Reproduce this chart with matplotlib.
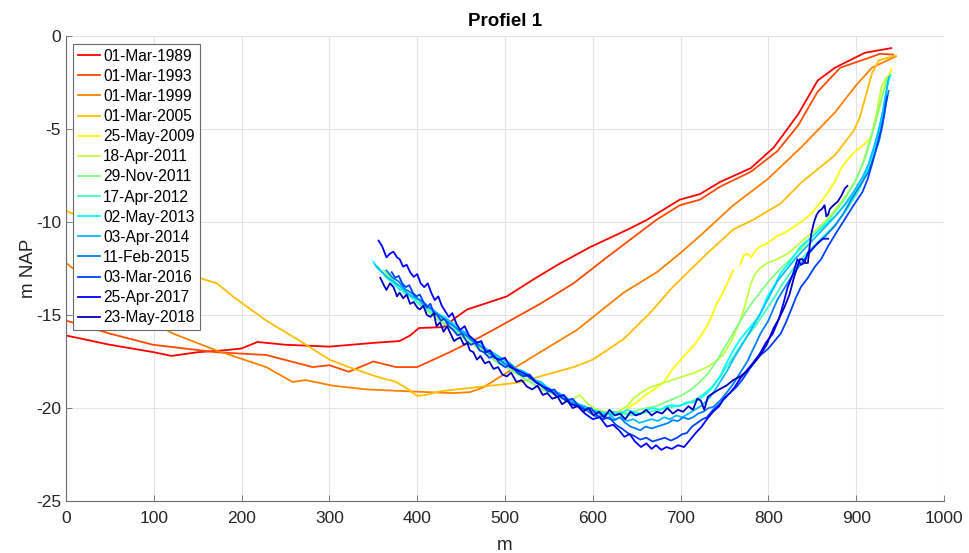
import numpy as np
import matplotlib
matplotlib.use("Agg")
import matplotlib.pyplot as plt

plt.rcParams['font.family'] = ['Liberation Sans', 'DejaVu Sans']
plt.rcParams['axes.unicode_minus'] = False

nan = np.nan

# ---------- survey dates and colours
dates = ["01-Mar-1989", "01-Mar-1993", "01-Mar-1999", "01-Mar-2005",
         "25-May-2009", "18-Apr-2011", "29-Nov-2011", "17-Apr-2012",
         "02-May-2013", "03-Apr-2014", "11-Feb-2015", "03-Mar-2016",
         "25-Apr-2017", "23-May-2018"]

colors = ["#ff0000", "#ff4a00", "#ff8000", "#ffbf00", "#ffff00", "#bfff40",
          "#80ff80", "#40ffbf", "#00ffff", "#00bfff", "#0080ff", "#0040ff",
          "#0000ff", "#0000c0"]

# ---------- profiles (distance m, level m NAP)
x_1989 = [0, 50, 100, 120, 150, 180, 200, 218, 250, 300, 350, 380, 392, 402,
          430, 445, 457, 470, 502, 532, 560, 597, 640, 661, 699, 722, 745,
          780, 806, 834, 856, 876, 910, 940]
y_1989 = [-16.1, -16.6, -17.0, -17.2, -17.0, -16.9, -16.8, -16.45, -16.6,
          -16.7, -16.5, -16.4, -16.1, -15.7, -15.65, -15.1, -14.7, -14.5,
          -14.0, -13.1, -12.3, -11.35, -10.4, -9.9, -8.8, -8.5, -7.85, -7.1,
          -6.0, -4.2, -2.4, -1.7, -0.9, -0.65]

x_1993 = [0, 50, 99, 171, 228, 281, 300, 322, 350, 376, 400, 437, 471, 502,
          540, 578, 616, 672, 699, 722, 745, 780, 810, 834, 856, 882, 913,
          927, 942]
y_1993 = [-15.3, -16.0, -16.6, -17.0, -17.15, -17.8, -17.7, -18.05, -17.5,
          -17.8, -17.8, -17.0, -16.2, -15.4, -14.4, -13.3, -11.9, -9.9, -9.1,
          -8.8, -8.1, -7.3, -6.2, -4.8, -3.0, -1.7, -1.2, -0.96, -1.0]

x_1999 = [0, 50, 122, 171, 228, 258, 273, 304, 342, 388, 440, 460, 475, 502,
          540, 582, 635, 673, 699, 722, 760, 799, 837, 876, 899, 918, 945]
y_1999 = [-12.2, -14.1, -16.0, -16.9, -17.8, -18.6, -18.5, -18.8, -19.0,
          -19.1, -19.2, -19.15, -18.9, -18.1, -17.0, -15.8, -13.8, -12.7,
          -11.7, -10.75, -9.1, -7.7, -6.0, -4.1, -2.7, -1.7, -1.1]

x_2005 = [0, 20, 75, 141, 172, 190, 228, 265, 300, 322, 353, 376, 390, 400,
          410, 426, 464, 513, 540, 578, 600, 635, 665, 691, 730, 760, 782,
          814, 837, 876, 897, 904, 918, 926, 945]
y_2005 = [-9.4, -9.8, -11.3, -12.85, -13.3, -14.0, -15.3, -16.35, -17.4,
          -17.8, -18.3, -18.6, -19.0, -19.35, -19.3, -19.1, -18.9, -18.65,
          -18.3, -17.8, -17.4, -16.3, -14.9, -13.5, -11.7, -10.4, -9.9, -9.0,
          -7.9, -6.4, -5.1, -4.4, -2.0, -1.3, -1.05]

x_2009 = [640, 650, 660, 670, 681, 691, 702, 714, 722, 730, 736, 741, 747,
          753, 757, 760, 764, 768, 772, 776, 780, 786, 791, 797, 803, 810,
          818, 828, 837, 848, 860, 868, 876, 883, 891, 899, 907, 914, 917,
          920, 924, 928, 933, 937, 940]
y_2009 = [-20.0, -19.7, -19.3, -19.0, -18.6, -17.9, -17.3, -16.7, -16.2,
          -15.6, -15.0, -14.4, -13.9, -13.3, -12.9, -12.6, nan, -12.3, -11.8,
          -11.7, -11.9, -11.5, -11.3, -11.2, -11.0, -10.75, -10.6, -10.3,
          -10.0, -9.6, -8.9, -8.4, -7.8, -7.1, -6.6, -6.2, -5.9, -5.6, nan,
          -4.9, -4.3, -3.5, -2.6, -2.1, -1.8]

x_2011a = [365, 375, 385, 395, 405, 415, 425, 435, 445, 455, 465, 475, 485,
           495, 505, 515, 525, 535, 545, 555, 565, 575, 585, 595, 605, 615,
           625, 632, 639, 646, 654, 665, 677, 690, 703, 716, 730, 740, 749,
           758, 768, 775, 780, 785, 790, 799, 810, 822, 832, 841, 855, 868,
           880, 891, 900, 907, 915, 922, 929, 935]
y_2011a = [-12.8, -13.3, -13.7, -14.1, -14.5, -14.9, -15.2, -15.6, -15.9,
           -16.2, -16.6, -16.9, -17.3, -17.6, -17.9, -18.2, -18.5, -18.8,
           -19.0, -19.2, -19.4, -19.6, -19.3, -19.8, -20.1, -20.2, -20.3,
           -20.1, -19.9, -19.5, -19.2, -18.9, -18.7, -18.5, -18.3, -18.1,
           -17.8, -17.5, -17.1, -16.4, -15.3, -14.2, -13.3, -12.8, -12.5,
           -12.2, -12.0, -11.7, -11.3, -10.9, -10.4, -9.8, -9.1, -8.4, -7.7,
           -6.9, -5.7, -4.4, -2.7, -2.2]

x_2011b = [362, 372, 382, 392, 402, 412, 422, 432, 442, 452, 462, 472, 482,
           492, 502, 512, 522, 532, 542, 552, 562, 572, 582, 592, 602, 612,
           622, 632, 642, 652, 662, 672, 682, 692, 702, 712, 722, 732, 742,
           752, 762, 772, 782, 792, 802, 812, 825, 840, 855, 870, 885, 898,
           910, 918, 925, 931, 935]
y_2011b = [-12.6, -13.1, -13.6, -14.0, -14.4, -14.8, -15.2, -15.5, -15.8,
           -16.2, -16.5, -16.9, -17.2, -17.6, -17.8, -18.1, -18.4, -18.7,
           -19.0, -19.2, -19.4, -19.7, -19.9, -20.1, -20.2, -20.4, -20.3,
           -20.2, -20.3, -20.1, -20.0, -19.9, -19.7, -19.5, -19.3, -19.0,
           -18.6, -18.1, -17.4, -16.6, -15.8, -15.0, -14.3, -13.7, -13.1,
           -12.6, -12.0, -11.3, -10.5, -9.8, -8.9, -7.9, -6.6, -5.3, -4.1,
           -3.0, -2.4]

x_2012 = [355, 365, 375, 385, 395, 405, 415, 425, 435, 445, 455, 465, 475,
          485, 495, 505, 515, 525, 535, 545, 555, 565, 575, 585, 595, 605,
          615, 625, 635, 645, 655, 665, 675, 685, 695, 705, 715, 725, 735,
          745, 755, 765, 775, 785, 795, 805, 815, 830, 845, 860, 875, 890,
          903, 913, 921, 928, 934]
y_2012 = [-12.4, -13.0, -13.4, -13.8, -14.1, -14.5, -14.8, -15.1, -15.4,
          -15.8, -16.1, -16.5, -16.8, -17.1, -17.4, -17.7, -18.0, -18.3,
          -18.5, -18.8, -19.1, -19.3, -19.6, -19.8, -20.0, -20.2, -20.3,
          -20.4, -20.3, -20.4, -20.3, -20.2, -20.1, -20.0, -19.9, -19.8,
          -19.6, -19.3, -18.9, -18.3, -17.6, -16.9, -16.2, -15.6, -14.9,
          -14.2, -13.4, -12.4, -11.6, -10.9, -10.2, -9.3, -8.3, -7.2, -5.9,
          -4.6, -3.4]

x_2013 = [350, 355, 360, 365, 370, 375, 380, 385, 390, 396, 402, 408, 414,
          420, 426, 432, 438, 444, 450, 456, 462, 468, 474, 480, 487, 494,
          501, 508, 515, 522, 529, 536, 543, 550, 557, 564, 571, 578, 585,
          592, 600, 608, 616, 623, 631, 639, 646, 654, 661, 669, 677, 684,
          691, 699, 706, 714, 722, 730, 738, 745, 752, 760, 768, 775, 782,
          790, 799, 807, 814, 825, 837, 852, 868, 878, 887, 897, 907, 913,
          918, 922, 926, 930, 933, 936, 939]
y_2013 = [-12.15, -12.5, -12.7, -12.95, -13.1, -13.3, -13.65, -13.6, -13.9,
          -14.1, -14.2, -14.5, -14.6, -14.8, -15.0, -15.1, -15.4, -15.5,
          -15.9, -16.0, -16.3, -16.6, -16.7, -17.0, -17.2, -17.4, -17.8,
          -17.7, -18.1, -18.2, -18.4, -18.6, -18.7, -19.0, -19.2, -19.3,
          -19.6, -19.75, -19.9, -20.0, -20.1, -20.2, -20.3, -20.2, -20.3,
          -20.1, -20.2, -20.3, -20.1, -20.0, -20.1, -19.9, -19.85, -19.9,
          -19.7, -19.7, -19.5, -19.2, -18.8, -18.3, -17.6, -16.9, -16.3,
          -15.9, -15.5, -15.0, -14.0, -13.4, -12.75, -12.1, -11.3, -10.7,
          -10.0, -9.6, -9.1, -8.5, -7.85, -7.1, -6.4, -5.8, -5.1, -4.2, -3.3,
          -2.6, -2.1]

x_2014 = [352, 358, 364, 370, 376, 382, 388, 394, 400, 406, 412, 418, 424,
          430, 436, 442, 448, 454, 460, 466, 472, 478, 485, 492, 499, 506,
          513, 520, 527, 534, 541, 548, 555, 562, 569, 576, 583, 590, 597,
          604, 611, 618, 625, 632, 639, 646, 653, 660, 667, 674, 681, 688,
          695, 702, 709, 716, 723, 730, 737, 745, 753, 761, 770, 780, 790,
          800, 810, 820, 830, 840, 852, 864, 876, 888, 898, 907, 914, 920,
          926, 931, 935, 937]
y_2014 = [-12.3, -12.6, -12.9, -13.1, -13.3, -13.5, -13.8, -14.0, -14.1,
          -14.4, -14.6, -14.7, -15.0, -15.2, -15.3, -15.6, -15.8, -15.9,
          -16.2, -16.4, -16.5, -16.8, -17.0, -17.2, -17.4, -17.6, -17.9,
          -18.0, -18.2, -18.5, -18.6, -18.9, -19.1, -19.2, -19.5, -19.6,
          -19.8, -19.9, -20.1, -20.2, -20.4, -20.3, -20.6, -20.5, -20.7,
          -20.6, -20.8, -20.7, -20.6, -20.7, -20.5, -20.6, -20.4, -20.5,
          -20.3, -20.1, -19.9, -19.6, -19.2, -18.6, -18.0, -17.3, -16.6,
          -15.8, -15.0, -14.1, -13.2, -12.6, -12.0, -11.5, -10.9, -10.3,
          -9.7, -9.0, -8.3, -7.6, -6.9, -6.0, -5.0, -3.9, -2.8, -2.2]

x_2015 = [365, 372, 379, 386, 393, 400, 407, 414, 421, 428, 435, 442, 449,
          456, 463, 470, 478, 486, 494, 502, 510, 518, 526, 534, 542, 550,
          558, 566, 574, 582, 590, 598, 605, 612, 619, 625, 631, 637, 643,
          649, 654, 660, 667, 673, 680, 686, 691, 697, 703, 709, 714, 720,
          726, 732, 737, 745, 752, 760, 768, 776, 783, 791, 800, 810, 819,
          829, 841, 853, 864, 876, 886, 895, 905, 914, 920, 926, 930, 933,
          937]
y_2015 = [-12.6, -13.0, -13.2, -13.6, -13.8, -14.1, -14.3, -14.6, -14.9,
          -15.1, -15.4, -15.6, -15.9, -16.1, -16.4, -16.6, -16.9, -17.2,
          -17.4, -17.7, -17.9, -18.2, -18.3, -18.6, -18.8, -19.1, -19.2,
          -19.5, -19.7, -19.8, -20.0, -20.3, -20.5, -20.4, -20.6, -20.65,
          -20.5, -20.8, -21.0, -21.1, -21.2, -21.0, -21.1, -21.0, -20.9,
          -20.8, -20.65, -20.7, -20.5, -20.6, -20.5, -20.3, -20.2, -20.0,
          -19.95, -19.6, -19.2, -18.7, -18.1, -17.5, -16.8, -16.0, -15.3,
          -14.2, -13.5, -12.75, -12.0, -11.3, -10.8, -10.2, -9.5, -8.75,
          -8.0, -7.3, -6.5, -5.65, -4.8, -3.85, -2.95]

x_2016 = [371, 375, 379, 383, 387, 391, 395, 399, 403, 407, 411, 415, 419,
          423, 427, 431, 436, 441, 446, 451, 456, 461, 466, 471, 476, 482,
          488, 494, 500, 507, 514, 521, 528, 535, 542, 549, 556, 563, 570,
          577, 584, 591, 598, 605, 612, 619, 626, 633, 640, 647, 654, 661,
          668, 675, 682, 689, 696, 702, 707, 713, 719, 725, 730, 737, 744,
          750, 756, 763, 770, 780, 790, 800, 807, 814, 820, 826, 831, 837,
          845, 853, 860, 868, 877, 887, 897, 907, 913, 918, 923, 928, 932,
          935]
y_2016 = [-12.7, -13.0, -12.9, -13.3, -13.5, -13.4, -13.8, -14.0, -13.9,
          -14.3, -14.6, -14.4, -14.9, -15.0, -15.3, -15.2, -15.6, -15.8,
          -16.1, -16.0, -16.4, -16.6, -16.5, -16.9, -17.0, -17.3, -17.2,
          -17.6, -17.8, -17.7, -18.1, -18.3, -18.2, -18.6, -18.8, -19.1,
          -19.0, -19.4, -19.6, -19.5, -19.9, -20.1, -20.0, -20.4, -20.6,
          -20.5, -20.9, -21.1, -21.35, -21.5, -21.7, -21.6, -21.8, -21.7,
          -21.6, -21.75, -21.6, -21.4, -21.35, -21.0, -20.8, -20.6, -20.5,
          -20.1, -19.8, -19.5, -19.2, -18.9, -18.5, -17.8, -17.2, -16.8,
          -16.4, -16.0, -15.4, -14.7, -14.1, -13.5, -13.0, -12.4, -12.0,
          -11.3, -10.6, -9.85, -9.1, -8.4, -7.7, -6.9, -6.0, -5.1, -4.2,
          -3.25]

x_2017 = [356, 360, 365, 369, 373, 377, 380, 384, 388, 392, 396, 400, 404,
          408, 412, 416, 420, 424, 428, 432, 436, 440, 445, 449, 454, 459,
          464, 468, 473, 478, 483, 488, 494, 500, 506, 513, 520, 528, 535,
          543, 551, 559, 567, 575, 583, 591, 600, 608, 616, 623, 630, 636,
          642, 648, 655, 661, 667, 672, 678, 684, 690, 697, 704, 711, 718,
          724, 730, 737, 744, 749, 756, 762, 768, 775, 782, 790, 797, 805,
          812, 817, 822, 828, 833, 837, 841, 845, 849, 853, 857, 862, 868]
y_2017 = [-11.0, -11.3, -11.9, -11.7, -11.6, -11.9, -12.0, -12.4, -12.3,
          -12.7, -12.95, -12.8, -13.3, -13.5, -13.3, -13.8, -14.2, -14.0,
          -14.5, -14.8, -15.1, -14.9, -15.5, -15.8, -15.6, -16.1, -16.3,
          -16.5, -16.4, -17.0, -16.9, -17.3, -17.4, -17.3, -17.8, -17.95,
          -18.1, -18.3, -18.6, -18.85, -19.0, -19.4, -19.3, -19.8, -19.9,
          -20.3, -20.6, -20.5, -21.0, -20.9, -21.2, -21.55, -21.4, -21.8,
          -22.1, -21.9, -22.2, -22.0, -22.25, -22.1, -22.2, -22.0, -22.1,
          -21.7, -21.3, -21.0, -20.6, -20.2, -19.9, -19.5, -19.2, -18.85,
          -18.4, -18.0, -17.6, -17.1, -16.5, -16.0, -15.2, -14.4, -13.5,
          -12.8, -12.0, -12.3, -12.2, -11.65, -11.5, -11.3, -11.1, -10.9,
          -10.9]

x_2018 = [358, 362, 365, 369, 373, 377, 380, 384, 388, 392, 396, 400, 403,
          407, 411, 415, 419, 422, 426, 430, 434, 438, 442, 445, 449, 453,
          457, 460, 464, 468, 472, 477, 482, 487, 492, 497, 502, 507, 513,
          519, 525, 531, 537, 543, 548, 554, 560, 565, 571, 577, 583, 589,
          595, 601, 607, 613, 619, 625, 631, 637, 643, 649, 655, 661, 667,
          673, 679, 685, 691, 697, 703, 709, 714, 719, 723, 727, 731, 737,
          744, 752, 760, 768, 776, 783, 790, 798, 806, 812, 818, 824, 829,
          833, 836, 839, 842, 845, 847, 849, 852, 855, 858, 861, 864, 866,
          868, 870, 874, 879, 883, 887, 890]
y_2018 = [-13.0, -13.4, -13.65, -13.3, -13.5, -14.0, -13.8, -14.1, -13.9,
          -14.4, -14.3, -14.6, -14.7, -14.5, -15.0, -15.1, -14.9, -15.6,
          -15.4, -15.9, -15.6, -16.0, -16.4, -16.3, -16.2, -16.6, -16.5,
          -16.9, -17.0, -17.4, -17.2, -17.6, -17.5, -17.9, -17.8, -18.2,
          -18.3, -18.1, -18.6, -18.5, -18.85, -19.0, -18.8, -19.3, -19.2,
          -19.5, -19.4, -19.8, -19.6, -20.0, -19.9, -20.2, -20.0, -20.4,
          -20.2, -20.5, -20.1, -20.4, -20.3, -20.6, -20.2, -20.4, -20.3,
          -20.1, -20.4, -20.2, -20.3, -20.0, -20.3, -20.1, -20.2, -19.9,
          -20.1, -19.5, -19.6, -20.1, -19.4, -19.2, -19.0, -18.8, -18.5,
          -18.3, -18.0, -17.6, -17.2, -16.6, -15.7, -15.2, -14.6, -13.9,
          -13.0, -12.4, -12.0, -12.0, -12.2, -12.2, -11.3, -10.6, -10.0,
          -9.6, -9.4, -9.3, -9.1, -9.7, -9.6, -9.3, -9.1, -8.9, -8.6, -8.2,
          -8.06]

profiles = [(x_1989, y_1989), (x_1993, y_1993), (x_1999, y_1999),
            (x_2005, y_2005), (x_2009, y_2009), (x_2011a, y_2011a),
            (x_2011b, y_2011b), (x_2012, y_2012), (x_2013, y_2013),
            (x_2014, y_2014), (x_2015, y_2015), (x_2016, y_2016),
            (x_2017, y_2017), (x_2018, y_2018)]

x_ticks = [0, 100, 200, 300, 400, 500, 600, 700, 800, 900, 1000]
y_ticks = [0, -5, -10, -15, -20, -25]

# ----------
fig = plt.figure(figsize=(9.70, 5.53), dpi=100)
ax = fig.add_axes([66 / 970, 1 - 501 / 553, 878 / 970, 465 / 553])

for (xs, ys), lab, col in zip(profiles, dates, colors):
    ax.plot(xs, ys, color=col, linewidth=1.3, label=lab)

ax.set_xlim(0, 1000)
ax.set_ylim(-25, 0)
ax.set_xticks(x_ticks)
ax.set_yticks(y_ticks)
ax.grid(True, color="#e4e4e4", linewidth=0.8)
ax.set_axisbelow(True)

for side in ["top", "right"]:
    ax.spines[side].set_visible(False)
for side in ["left", "bottom"]:
    ax.spines[side].set_color("#6a6a6a")
    ax.spines[side].set_linewidth(0.8)

ax.tick_params(direction="in", length=4, width=0.6, color="#6a6a6a",
               labelcolor="#262626", labelsize=12.5)
ax.tick_params(axis="x", pad=7)

ax.set_xlabel("m", fontsize=13.5, color="#262626", labelpad=8)
ax.set_ylabel("m NAP", fontsize=13.5, color="#262626", labelpad=-1)
ax.set_title("Profiel 1", fontsize=13.5, fontweight="bold", color="black",
             pad=7)

leg = ax.legend(loc="upper left", bbox_to_anchor=(0.008, 0.983),
                borderaxespad=0, fontsize=11.2, handlelength=1.45,
                handletextpad=0.2, labelspacing=0.33, borderpad=0.3,
                fancybox=False, framealpha=1)
leg.get_frame().set_edgecolor("#6a6a6a")
leg.get_frame().set_linewidth(0.8)

fig.savefig("out.png", dpi=100)
